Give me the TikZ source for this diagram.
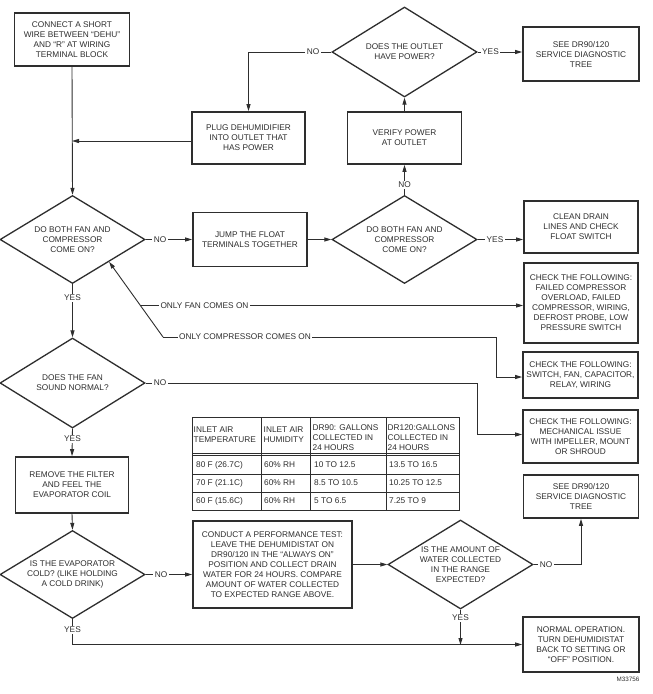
\documentclass[tikz,border=0pt]{standalone}
\usepackage{fontspec}
\setmainfont{Liberation Sans}
\usetikzlibrary{shapes.geometric,arrows.meta}
\newcommand\dgfont{\fontsize{8.3}{10}\selectfont}
\definecolor{ink}{gray}{0.18}
\begin{document}
\begin{tikzpicture}[x=1pt,y=-1pt,
  box/.style={draw=ink,line width=1.7pt,align=center,inner sep=0pt,font=\dgfont,text=ink},
  dia/.style={diamond,draw=ink,line width=1.3pt,inner sep=0pt,
    minimum width=145pt,minimum height=88pt},
  dtext/.style={align=center,inner sep=0pt,font=\dgfont,text=ink},
  conn/.style={draw=ink,line width=0.9pt},
  arr/.style={conn,-{Triangle[length=7pt,width=4pt]}},
  lbl/.style={fill=white,inner sep=1.5pt,font=\dgfont,text=ink},
  tline/.style={draw=ink,line width=0.7pt},
  tcell/.style={anchor=west,inner sep=0pt,align=left,font=\dgfont,text=ink}]
\useasboundingbox (0,0) rectangle (653,694);
\fill[white] (0,0) rectangle (653,694);

% boxes
\node[box,minimum width=115pt,minimum height=53pt] (c1) at (72,39.5)
  {CONNECT A SHORT\\WIRE BETWEEN “DEHU”\\AND “R” AT WIRING\\TERMINAL BLOCK};
\node[box,minimum width=113pt,minimum height=52pt] (plug) at (248.5,138)
  {PLUG DEHUMIDIFIER\\INTO OUTLET THAT\\HAS POWER};
\node[dia,minimum height=90pt] (d1) at (404.5,52) {};
\node[dtext] (d1t) at (d1.center) {DOES THE OUTLET\\HAVE POWER?};
\node[box,minimum width=116pt,minimum height=54pt] (see1) at (581,54)
  {SEE DR90/120\\SERVICE DIAGNOSTIC\\TREE};
\node[box,minimum width=114pt,minimum height=52pt] (verify) at (404.5,138)
  {VERIFY POWER\\AT OUTLET};
\node[dia] (d2) at (72.5,239.5) {};
\node[dtext] (d2t) at (d2.center) {DO BOTH FAN AND\\COMPRESSOR\\COME ON?};
\node[box,minimum width=114pt,minimum height=54pt] (jump) at (250,239.5)
  {JUMP THE FLOAT\\TERMINALS TOGETHER};
\node[dia] (d3) at (404.5,239.5) {};
\node[dtext] (d3t) at (d3.center) {DO BOTH FAN AND\\COMPRESSOR\\COME ON?};
\node[box,minimum width=114pt,minimum height=52pt] (clean) at (581,227)
  {CLEAN DRAIN\\LINES AND CHECK\\FLOAT SWITCH};
\node[box,minimum width=114pt,minimum height=80pt] (chk1) at (581,303)
  {CHECK THE FOLLOWING:\\FAILED COMPRESSOR\\OVERLOAD, FAILED\\COMPRESSOR, WIRING,\\DEFROST PROBE, LOW\\PRESSURE SWITCH};
\node[box,minimum width=115pt,minimum height=46pt] (chk2) at (580.5,375)
  {CHECK THE FOLLOWING:\\SWITCH, FAN, CAPACITOR,\\RELAY, WIRING};
\node[box,minimum width=115pt,minimum height=53pt] (chk3) at (580.5,436.5)
  {CHECK THE FOLLOWING:\\MECHANICAL ISSUE\\WITH IMPELLER, MOUNT\\OR SHROUD};
\node[box,minimum width=115pt,minimum height=43pt] (see2) at (581,496.5)
  {SEE DR90/120\\SERVICE DIAGNOSTIC\\TREE};
\node[dia,minimum height=90pt] (d4) at (72.5,383) {};
\node[dtext] (d4t) at (d4.center) {DOES THE FAN\\SOUND NORMAL?};
\node[box,minimum width=113pt,minimum height=56pt] (remove) at (72,485)
  {REMOVE THE FILTER\\AND FEEL THE\\EVAPORATOR COIL};
\node[dia] (d5) at (72.5,574.5) {};
\node[dtext] (d5t) at (d5.center) {IS THE EVAPORATOR\\COLD? (LIKE HOLDING\\A COLD DRINK)};
\node[box,minimum width=159pt,minimum height=87pt] (conduct) at (272.5,564.5)
  {CONDUCT A PERFORMANCE TEST:\\LEAVE THE DEHUMIDISTAT ON\\DR90/120 IN THE “ALWAYS ON”\\POSITION AND COLLECT DRAIN\\WATER FOR 24 HOURS. COMPARE\\AMOUNT OF WATER COLLECTED\\TO EXPECTED RANGE ABOVE.};
\node[dia,minimum height=89pt] (d6) at (460.5,564.5) {};
\node[dtext] (d6t) at (d6.center) {IS THE AMOUNT OF\\WATER COLLECTED\\IN THE RANGE\\EXPECTED?};
\node[box,minimum width=116pt,minimum height=55pt] (normal) at (581,644.5)
  {NORMAL OPERATION.\\TURN DEHUMIDISTAT\\BACK TO SETTING OR\\“OFF” POSITION.};

% helper coordinates
\coordinate (j1) at (72,141);
\coordinate (dg) at (163,337);
\coordinate (fb) at (140,305.5);
\coordinate (c2a) at (496,337);
\coordinate (c3a) at (477,383);
\coordinate (mj) at (460.5,645);

% connectors
\draw[arr] (c1.south) -- (d2.north);
\draw[arr] (d1.west) -| (plug.north);
\draw[arr] ([yshift=-3pt]plug.west) -- (j1);
\draw[arr] (verify.north) -- (d1.south);
\draw[arr] (d3.north) -- (verify.south);
\draw[arr] (d1.east) -- (d1.east -| see1.west);
\draw[arr] (d2.east) -- (jump.west);
\draw[arr] (jump.east) -- (d3.west);
\draw[arr] (d3.east) -- (d3.east -| clean.west);
\draw[arr] (d2.south) -- (d4.north);
\draw[arr] (dg) -- (d2.south east);
\draw[arr] (fb) -- (fb -| chk1.west);
\draw[arr] (dg) -- (c2a) |- ([yshift=-2pt]chk2.west);
\draw[arr] (d4.east) -- (c3a) |- ([yshift=2pt]chk3.west);
\draw[arr] (d4.south) -- (remove.north);
\draw[arr] (remove.south) -- (d5.north);
\draw[arr] (d5.east) -- (d5.east -| conduct.west);
\draw[arr] (conduct.east) -- (d6.west);
\draw[arr] (d6.east) -| (see2.south);
\draw[arr] (d6.south) -- (mj);
\draw[arr] (d5.south) |- (normal.west);

% labels
\node[lbl] (l1) at (313,52) {NO};
\node[lbl] (l2) at (490.5,52) {YES};
\node[lbl] (l3) at (404.5,185) {NO};
\node[lbl] (l4) at (160,239.5) {NO};
\node[lbl] (l5) at (495,239.5) {YES};
\node[lbl] (l6) at (72.5,298) {YES};
\node[lbl] (l7) at (204.5,305.5) {ONLY FAN COMES ON};
\node[lbl] (l8) at (245,337) {ONLY COMPRESSOR COMES ON};
\node[lbl] (l9) at (160,383) {NO};
\node[lbl] (l10) at (72.5,439) {YES};
\node[lbl] (l11) at (161,574.5) {NO};
\node[lbl] (l12) at (72.5,630) {YES};
\node[lbl] (l13) at (546,564.5) {NO};
\node[lbl] (l14) at (460.5,618) {YES};

% table
\draw[tline] (192,417) rectangle (459,510);
\foreach \cx in {261,310,386} \draw[tline] (\cx,417) -- (\cx,510);
\draw[tline] (192,453) -- (459,453);
\draw[tline] (192,455.7) -- (459,455.7);
\draw[tline] (192,474) -- (459,474);
\draw[tline] (192,492) -- (459,492);
\node[tcell] (h1) at (193.5,435) {INLET AIR\\TEMPERATURE};
\node[tcell] (h2) at (263.5,435) {INLET AIR\\HUMIDITY};
\node[tcell] (h3) at (312.5,438) {DR90: GALLONS\\COLLECTED IN\\24 HOURS};
\node[tcell] (h4) at (387.5,438) {DR120:GALLONS\\COLLECTED IN\\24 HOURS};
\node[tcell] (r11) at (196,465) {80 F (26.7C)};
\node[tcell] (r12) at (264,465) {60\% RH};
\node[tcell] (r13) at (314,465) {10 TO 12.5};
\node[tcell] (r14) at (389,465) {13.5 TO 16.5};
\node[tcell] (r21) at (196,483) {70 F (21.1C)};
\node[tcell] (r22) at (264,483) {60\% RH};
\node[tcell] (r23) at (314,483) {8.5 TO 10.5};
\node[tcell] (r24) at (389,483) {10.25 TO 12.5};
\node[tcell] (r31) at (196,501) {60 F (15.6C)};
\node[tcell] (r32) at (264,501) {60\% RH};
\node[tcell] (r33) at (314,501) {5 TO 6.5};
\node[tcell] (r34) at (389,501) {7.25 TO 9};

\node[inner sep=0pt,font=\fontsize{6.3}{7}\selectfont,text=ink] (code) at (628,679) {M33756};
\end{tikzpicture}
\end{document}
